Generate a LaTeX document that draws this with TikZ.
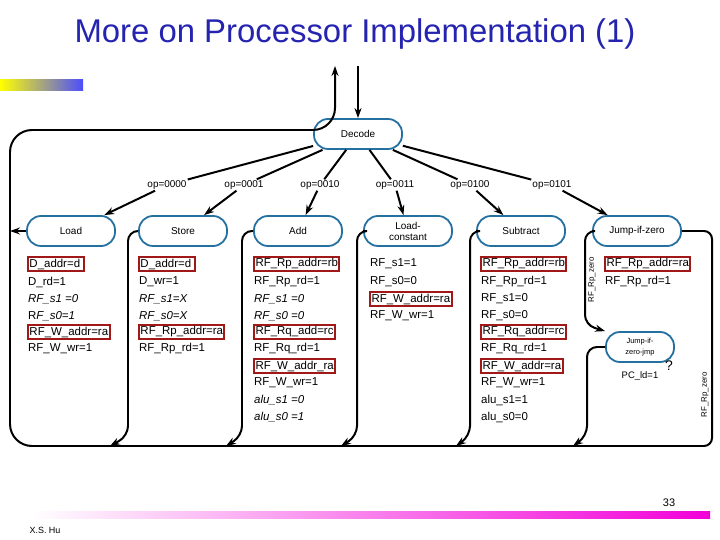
\documentclass[tikz,border=0pt]{standalone}
\usepackage{fontspec}
\setmainfont{Liberation Sans}
\usetikzlibrary{arrows.meta}
\definecolor{sblue}{HTML}{2470A0}
\definecolor{tblue}{HTML}{2424B0}
\definecolor{rbox}{HTML}{A01818}
\begin{document}
\begin{tikzpicture}[x=1bp,y=-1bp,
 st/.style={draw=sblue,line width=1.8pt,rounded corners=14bp,minimum width=88bp,minimum height=30bp,font=\fontsize{10}{11}\selectfont,align=center,inner sep=1bp},
 lab/.style={font=\fontsize{10}{11}\selectfont,fill=white,inner sep=1bp},
 tx/.style={font=\fontsize{11.5}{12}\selectfont,anchor=west,inner sep=1bp},
 bx/.style={tx,draw=rbox,line width=2pt,inner sep=1.5bp},
 ln/.style={line width=2pt,rounded corners=10bp},
 ar/.style={ln,-{Stealth[length=10bp,width=7bp]}}]
\useasboundingbox (0,0) rectangle (720,540);
\node[text=tblue,font=\fontsize{33}{36}\selectfont] (title) at (355,34) {More on Processor Implementation (1)};
\shade[left color=yellow,right color=blue!70] (0,80) rectangle (83,91);
\shade[left color=white,right color=magenta!80!purple] (30,511) rectangle (710,518);
\node[font=\fontsize{11}{12}\selectfont] (pg) at (669,503) {33};
\node[font=\fontsize{9}{10}\selectfont] (au) at (45,530) {X.S. Hu};
% states
\node[st] (dec) at (358,134) {Decode};
\node[st] (ld) at (71,231) {Load};
\node[st] (sto) at (183,231) {Store};
\node[st] (add) at (298,231) {Add};
\node[st] (lc) at (408,231) {Load-\\constant};
\node[st] (sub) at (521,231) {Subtract};
\node[st] (jz) at (637,231) {Jump-if-zero};
\node[st,minimum width=68bp,font=\fontsize{7.5}{11}\selectfont] (jzj) at (640,347) {Jump-if-\\zero-jmp};
% op labels
\foreach \n/\x/\t/\s in {o0/167/0000/ld,o1/244/0001/sto,o2/320/0010/add,o3/395/0011/lc,o4/470/0100/sub,o5/552/0101/jz}{
 \node[lab] (\n) at (\x,185) {op=\t};
 \draw[line width=2pt] (dec) -- (\n);
 \draw[ar] (\n) -- (\s);
}
% top arrows
\coordinate (tin) at (358,66);
\draw[ar] (tin) -- (dec);
\coordinate (tout) at (335,66);
\coordinate (ldl) at (10,231);
\draw[ar] (ld.west) -- (ldl);
\draw[ar,rounded corners=22bp] (590,446) -- (10,446) -- (10,130) -- (335,130) -- (tout);
% loops
\foreach \s/\x/\e in {sto/128/110,add/242/226,lc/357/341,sub/470/456}{
 \draw[ar] (\s.west) -| (\x,436) -- (\e,446);
}
\draw[ar] (jzj.west) -| (587,436) -- (573,446);
\draw[ar] (jz.west) -| (585,325) -- (jzj.north west);
\draw[ln,rounded corners=8bp] (jz.east) -| (712,446) -- (590,446);
\node[rotate=90,font=\fontsize{8}{9}\selectfont] (z1) at (592,280) {RF\_Rp\_zero};
\node[rotate=90,font=\fontsize{8}{9}\selectfont] (z2) at (705,395) {RF\_Rp\_zero};
\node[font=\fontsize{9.5}{10}\selectfont] (pc) at (640,376) {PC\_ld=1};
\node[font=\fontsize{14}{14}\selectfont] (q) at (669,366) {?};
% Load list
\node[bx] (a1) at (27,264) {D\_addr=d\,};
\node[tx] (a2) at (27,282) {D\_rd=1};
\node[tx] (a3) at (27,299) {\itshape RF\_s1 =0};
\node[tx] (a4) at (27,316) {R\itshape F\_s0=1};
\node[bx] (a5) at (27,332) {RF\_W\_addr=ra};
\node[tx] (a6) at (27,349) {RF\_W\_wr=1};
% Store
\node[bx] (b1) at (138,264) {D\_addr=d\,};
\node[tx] (b2) at (138,282) {D\_wr=1};
\node[tx] (b3) at (138,299) {\itshape RF\_s1=X};
\node[tx] (b4) at (138,316) {\itshape RF\_s0=X};
\node[bx] (b5) at (138,332) {RF\_Rp\_addr=ra};
\node[tx] (b6) at (138,349) {RF\_Rp\_rd=1};
% Add
\node[bx] (c1) at (253,264) {RF\_Rp\_addr=rb};
\node[tx] (c2) at (253,282) {RF\_Rp\_rd=1};
\node[tx] (c3) at (253,299) {\itshape RF\_s1 =0};
\node[tx] (c4) at (253,316) {\itshape RF\_s0 =0};
\node[bx] (c5) at (253,332) {RF\_Rq\_add=rc};
\node[tx] (c6) at (253,349) {RF\_Rq\_rd=1};
\node[bx] (c7) at (253,366) {RF\_W\_addr\_ra};
\node[tx] (c8) at (253,383) {RF\_W\_wr=1};
\node[tx] (c9) at (253,400) {\itshape alu\_s1 =0};
\node[tx] (c10) at (253,417) {\itshape alu\_s0 =1};
% Load-constant
\node[tx] (d1) at (369,264) {RF\_s1=1};
\node[tx] (d2) at (369,282) {RF\_s0=0};
\node[bx] (d3) at (369,299) {RF\_W\_addr=ra};
\node[tx] (d4) at (369,316) {RF\_W\_wr=1};
% Subtract
\node[bx] (e1) at (480,264) {RF\_Rp\_addr=rb};
\node[tx] (e2) at (480,282) {RF\_Rp\_rd=1};
\node[tx] (e3) at (480,299) {RF\_s1=0};
\node[tx] (e4) at (480,316) {RF\_s0=0};
\node[bx] (e5) at (480,332) {RF\_Rq\_addr=rc};
\node[tx] (e6) at (480,349) {RF\_Rq\_rd=1};
\node[bx] (e7) at (480,366) {RF\_W\_addr=ra};
\node[tx] (e8) at (480,383) {RF\_W\_wr=1};
\node[tx] (e9) at (480,400) {alu\_s1=1};
\node[tx] (e10) at (480,417) {alu\_s0=0};
% Jump
\node[bx] (f1) at (604,264) {RF\_Rp\_addr=ra};
\node[tx] (f2) at (604,282) {RF\_Rp\_rd=1};
\end{tikzpicture}
\end{document}
